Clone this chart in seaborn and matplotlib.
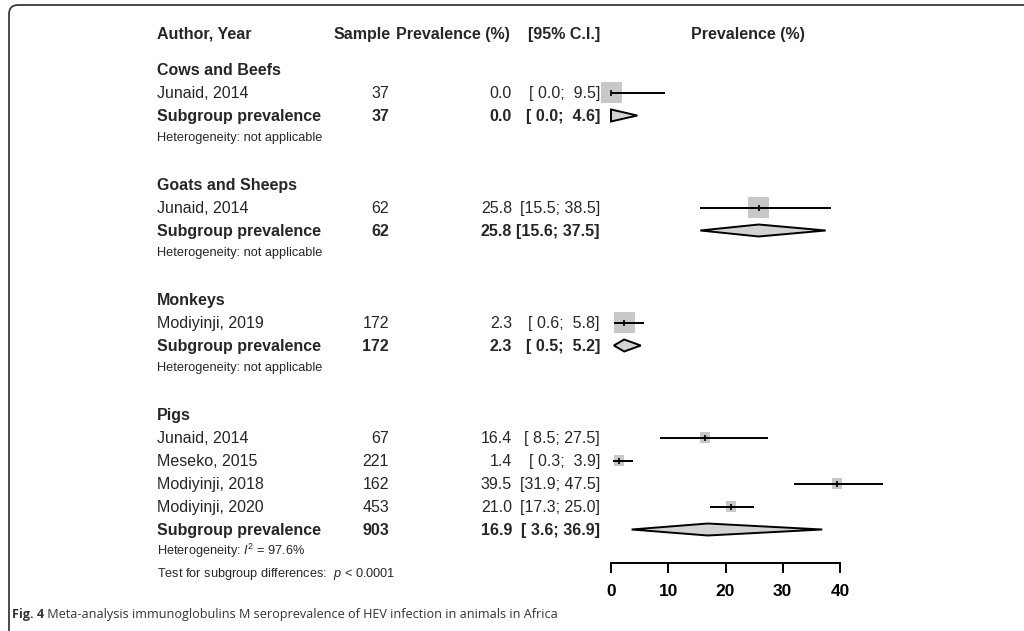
import numpy as np
import pandas as pd
import matplotlib
matplotlib.use("Agg")
import matplotlib.pyplot as plt
import seaborn as sns
from matplotlib.patches import Polygon, FancyBboxPatch

# ---- data ----
groups = ["Cows and Beefs", "Goats and Sheeps", "Monkeys", "Pigs"]
study_group = [0, 1, 2, 3, 3, 3, 3]
study_names = ["Junaid, 2014", "Junaid, 2014", "Modiyinji, 2019", "Junaid, 2014",
               "Meseko, 2015", "Modiyinji, 2018", "Modiyinji, 2020"]
study_n = [37, 62, 172, 67, 221, 162, 453]
study_prev = [0.0, 25.8, 2.3, 16.4, 1.4, 39.5, 21.0]
study_lo = [0.0, 15.5, 0.6, 8.5, 0.3, 31.9, 17.3]
study_hi = [9.5, 38.5, 5.8, 27.5, 3.9, 47.5, 25.0]

sub_n = [37, 62, 172, 903]
sub_prev = [0.0, 25.8, 2.3, 16.9]
sub_lo = [0.0, 15.6, 0.5, 3.6]
sub_hi = [4.6, 37.5, 5.2, 36.9]
het_i2 = [None, None, None, 97.6]
test_p = "0.0001"

ticks = [0, 10, 20, 30, 40]
caption_bold = "Fig. 4"
caption_rest = " Meta-analysis immunoglobulins M seroprevalence of HEV infection in animals in Africa"

# ---- style ----
sns.set_theme(style="white")
plt.rcParams['font.family'] = ['Liberation Sans', 'DejaVu Sans']
plt.rcParams['mathtext.fontset'] = 'custom'
plt.rcParams['mathtext.it'] = 'Liberation Sans:italic'
plt.rcParams['mathtext.rm'] = 'Liberation Sans'

W, H = 1024, 631
fig = plt.figure(figsize=(W / 100, H / 100), dpi=100)
fig.patch.set_facecolor("white")

# text layer in pixel units
tab = fig.add_axes([0, 0, 1, 1])
tab.set_xlim(0, W)
tab.set_ylim(H, 0)
tab.axis("off")

# forest layer: x in prevalence units, 0 -> 611px, 40 -> 840px
x0_px, ppu = 611, 229 / 40
xlo, xhi = -8.5, 52
left = x0_px + xlo * ppu
right = x0_px + xhi * ppu
ax = fig.add_axes([left / W, 0, (right - left) / W, 1])
ax.set_xlim(xlo, xhi)
ax.set_ylim(H, 0)
ax.patch.set_visible(False)
for s in ["top", "right", "left"]:
    ax.spines[s].set_visible(False)
ax.spines["bottom"].set_position(("data", 563))
ax.spines["bottom"].set_bounds(ticks[0], ticks[-1])
ax.spines["bottom"].set_color("black")
ax.spines["bottom"].set_linewidth(1.4)
ax.set_yticks([])
ax.set_xticks(ticks)
ax.set_xticklabels([str(t) for t in ticks], fontweight="bold")
ax.tick_params(axis="x", bottom=True, direction="out", length=7, width=1.4,
               color="black", pad=8, labelsize=12.5, labelcolor="black")
ax.grid(False)

# ---- row layout ----
step, het_gap, grp_gap = 23, 21, 48
y = 69.5
group_y, study_y, sub_y, het_y = [], [], [], []
for g in range(len(groups)):
    group_y.append(y)
    y += step
    for i, sg in enumerate(study_group):
        if sg == g:
            study_y.append(y)
            y += step
    sub_y.append(y)
    y += het_gap
    het_y.append(y)
    y += grp_gap
test_y = het_y[-1] + 21.5

# ---- forest marks ----
k = np.array([study_group.count(g) for g in study_group])
side_pt = 21 / np.sqrt(k) * 0.72
df = pd.DataFrame({"prev": study_prev, "y": study_y})
ax.hlines(study_y, study_lo, study_hi, color="black", lw=1.4, zorder=3)
sns.scatterplot(data=df, x="prev", y="y", marker="s", s=list(side_pt ** 2),
                color="#c8c8c8", linewidth=0, legend=False, ax=ax, zorder=2)
ax.scatter(study_prev, study_y, marker="|", s=22, color="black", lw=1.2, zorder=4)
ax.set_xlabel("")
ax.set_ylabel("")

for est, lo, hi, yy in zip(sub_prev, sub_lo, sub_hi, sub_y):
    ax.add_patch(Polygon([(lo, yy), (est, yy - 6), (hi, yy), (est, yy + 6)],
                         closed=True, facecolor="#d3d3d3", edgecolor="black",
                         lw=1.4, zorder=3))

# ---- table text (baseline aligned, shifted by half the cap height) ----
c_name, c_n, c_prev, c_ci, c_plot = 157, 389, 512, 600, 748
fs, fs_small = 11.5, 9.2
off = 0.716 * fs * 100 / 72 / 2
off_small = 0.716 * fs_small * 100 / 72 / 2


def put(x, yy, s, ha="left", bold=False, small=False):
    tab.text(x, yy + (off_small if small else off), s, ha=ha, va="baseline",
             fontsize=fs_small if small else fs,
             fontweight="bold" if bold else "normal")


hy = 33
put(c_name, hy, "Author, Year", bold=True)
put(c_n + 2, hy, "Sample", ha="right", bold=True)
put(c_prev - 2, hy, "Prevalence (%)", ha="right", bold=True)
put(c_ci, hy, "[95% C.I.]", ha="right", bold=True)
put(c_plot, hy, "Prevalence (%)", ha="center", bold=True)


def ci_str(lo, hi):
    return f"[{lo:4.1f}; {hi:4.1f}]"


for g, name in enumerate(groups):
    put(c_name, group_y[g], name, bold=True)

for i in range(len(study_names)):
    yy = study_y[i]
    put(c_name, yy, study_names[i])
    put(c_n, yy, str(study_n[i]), ha="right")
    put(c_prev, yy, f"{study_prev[i]:.1f}", ha="right")
    put(c_ci, yy, ci_str(study_lo[i], study_hi[i]), ha="right")

for g in range(len(groups)):
    yy = sub_y[g]
    put(c_name, yy, "Subgroup prevalence", bold=True)
    put(c_n, yy, str(sub_n[g]), ha="right", bold=True)
    put(c_prev, yy, f"{sub_prev[g]:.1f}", ha="right", bold=True)
    put(c_ci, yy, ci_str(sub_lo[g], sub_hi[g]), ha="right", bold=True)
    if het_i2[g] is None:
        het = "Heterogeneity: not applicable"
    else:
        het = f"Heterogeneity: $I^2$ = {het_i2[g]:.1f}%"
    put(c_name, het_y[g], het, small=True)

put(c_name, test_y, f"Test for subgroup differences:  $p$ < {test_p}", small=True)

# ---- caption and frame ----
cap = tab.text(12, 613, caption_bold, ha="left", va="center_baseline", fontsize=9.1,
               fontweight="bold", color="#333333", family=["Open Sans", "DejaVu Sans"])
tab.annotate(caption_rest, xy=(1, 0.0), xycoords=cap, ha="left", va="bottom",
             fontsize=9.1, color="#333333", family=["Open Sans", "DejaVu Sans"])

frame = FancyBboxPatch((9, 5), 1100, 700, boxstyle="round,pad=0,rounding_size=9",
                       fill=False, edgecolor="#3a3a3a", lw=1.3, clip_on=False,
                       transform=tab.transData)
tab.add_patch(frame)

fig.savefig("out.png", dpi=100)
